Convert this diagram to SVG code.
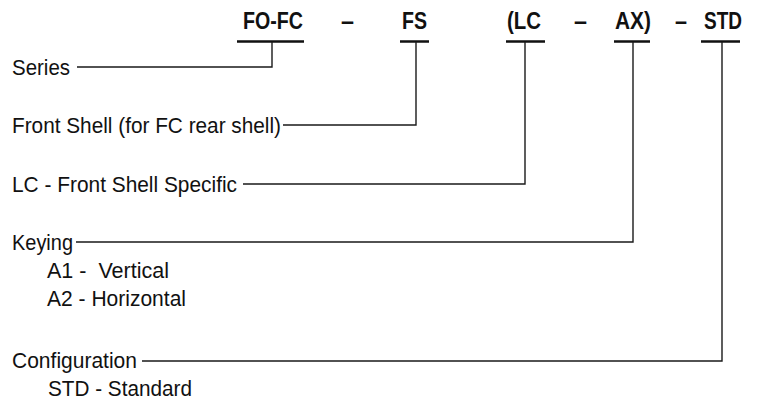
<svg xmlns="http://www.w3.org/2000/svg" width="760" height="401" viewBox="0 0 760 401">
<style>
.hdr{font-family:"Liberation Sans",Arial,sans-serif;font-weight:bold;font-size:23px;fill:#111}
.lbl{font-family:"Liberation Sans",Arial,sans-serif;font-size:22px;fill:#111;white-space:pre}
.ul{stroke:#111;stroke-width:2.6;fill:none}
.ln{stroke:#1a1a1a;stroke-width:1.4;fill:none}
</style>
<rect width="760" height="401" fill="#fff"/>
<g id="header">
<text class="hdr" x="243" y="29" textLength="60" lengthAdjust="spacingAndGlyphs">FO-FC</text>
<text class="hdr" x="341" y="29" textLength="13" lengthAdjust="spacingAndGlyphs">–</text>
<text class="hdr" x="402" y="29" textLength="25" lengthAdjust="spacingAndGlyphs">FS</text>
<text class="hdr" x="507" y="29" textLength="34" lengthAdjust="spacingAndGlyphs">(LC</text>
<text class="hdr" x="574" y="29" textLength="13" lengthAdjust="spacingAndGlyphs">–</text>
<text class="hdr" x="615" y="29" textLength="36" lengthAdjust="spacingAndGlyphs">AX)</text>
<text class="hdr" x="675" y="29" textLength="12" lengthAdjust="spacingAndGlyphs">–</text>
<text class="hdr" x="704" y="29" textLength="38" lengthAdjust="spacingAndGlyphs">STD</text>
<path class="ul" d="M237 41.5H304M400 41.5H429M506 41.5H545M614 41.5H650M701 41.5H740"/>
</g>
<g id="series"><text class="lbl" x="12" y="75" textLength="58" lengthAdjust="spacingAndGlyphs">Series</text></g>
<g id="front-shell"><text class="lbl" x="12" y="133" textLength="269" lengthAdjust="spacingAndGlyphs">Front Shell (for FC rear shell)</text></g>
<g id="lc-front-shell"><text class="lbl" x="12" y="192" textLength="225" lengthAdjust="spacingAndGlyphs">LC - Front Shell Specific</text></g>
<g id="keying">
<text class="lbl" x="12" y="250" textLength="61" lengthAdjust="spacingAndGlyphs">Keying</text>
<text class="lbl" x="47" y="278" textLength="122" lengthAdjust="spacingAndGlyphs">A1 -  Vertical</text>
<text class="lbl" x="47" y="306" textLength="139" lengthAdjust="spacingAndGlyphs">A2 - Horizontal</text>
</g>
<g id="configuration">
<text class="lbl" x="12" y="368" textLength="125" lengthAdjust="spacingAndGlyphs">Configuration</text>
<text class="lbl" x="48" y="396" textLength="144" lengthAdjust="spacingAndGlyphs">STD - Standard</text>
</g>
<g id="connectors">
<path class="ln" d="M77 67H272V42"/>
<path class="ln" d="M283 125H416V42"/>
<path class="ln" d="M243 184H525V42"/>
<path class="ln" d="M76 242H633V42"/>
<path class="ln" d="M142 361H722V42"/>
</g>
</svg>
